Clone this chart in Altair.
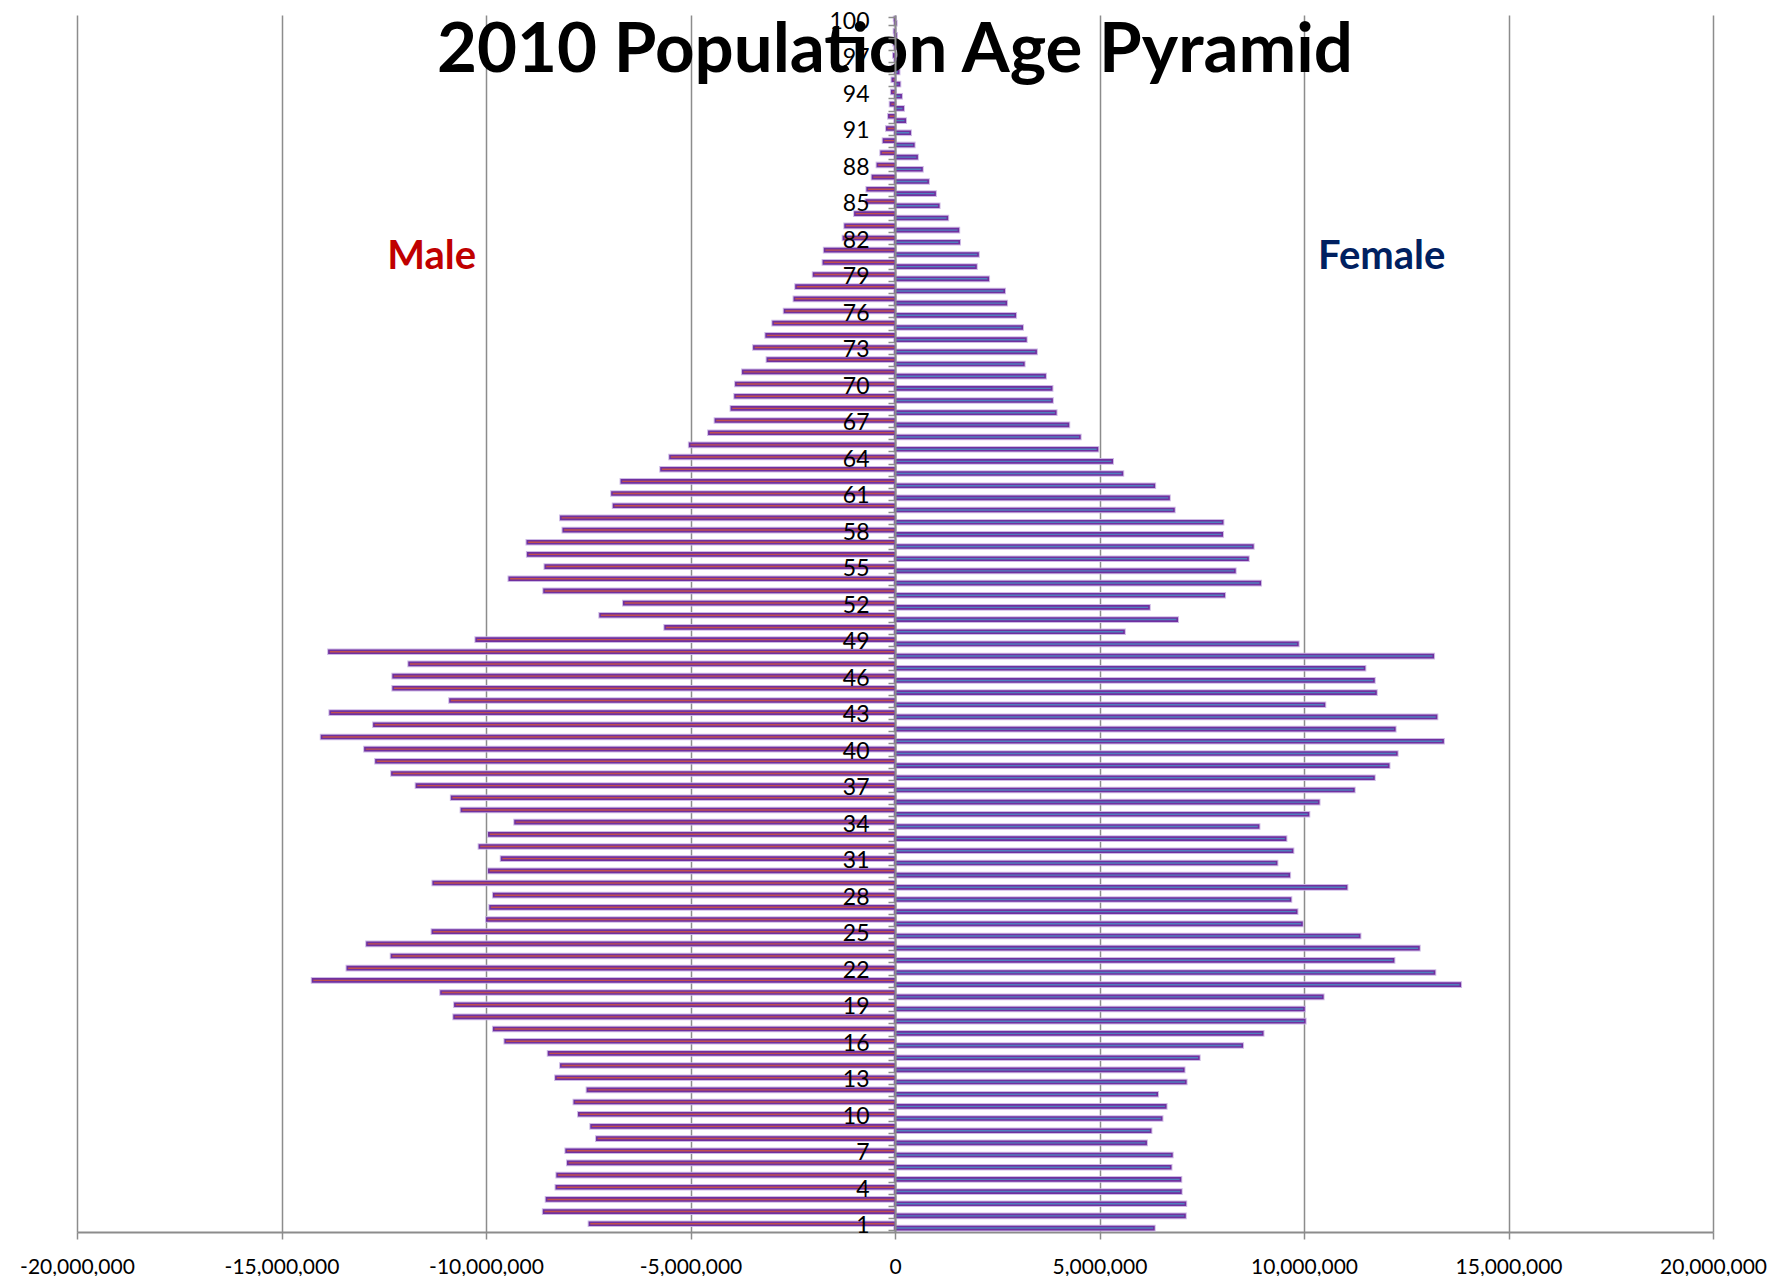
import altair as alt
import pandas as pd

# ---- data (millions of people), ages 1..100 ----
ages = list(range(1, 101))

male_m = [
    -7.47, -8.59, -8.52, -8.28, -8.26, -8.00, -8.04, -7.29, -7.43, -7.73,
    -7.84, -7.52, -8.29, -8.17, -8.47, -9.53, -9.81, -10.78, -10.76, -11.10,
    -14.24, -13.39, -12.31, -12.91, -11.31, -9.98, -9.90, -9.81, -11.29, -9.93,
    -9.62, -10.16, -9.93, -9.29, -10.60, -10.84, -11.70, -12.30, -12.69, -12.96,
    -14.02, -12.74, -13.81, -10.88, -12.27, -12.27, -11.88, -13.84, -10.24, -5.62,
    -7.21, -6.63, -8.58, -9.43, -8.55, -8.98, -8.99, -8.11, -8.17, -6.88,
    -6.92, -6.69, -5.72, -5.50, -5.02, -4.55, -4.39, -4.00, -3.91, -3.89,
    -3.72, -3.12, -3.45, -3.15, -2.98, -2.70, -2.46, -2.42, -1.99, -1.75,
    -1.72, -1.26, -1.22, -0.98, -0.70, -0.68, -0.55, -0.43, -0.34, -0.28,
    -0.20, -0.15, -0.11, -0.08, -0.065, -0.045, -0.03, -0.02, -0.012, -0.01,
]

female_m = [
    6.33, 7.09, 7.10, 6.99, 6.98, 6.74, 6.77, 6.14, 6.25, 6.52,
    6.62, 6.41, 7.11, 7.06, 7.43, 8.49, 8.99, 10.02, 10.00, 10.46,
    13.82, 13.19, 12.19, 12.81, 11.36, 9.95, 9.82, 9.67, 11.04, 9.64,
    9.33, 9.72, 9.55, 8.89, 10.11, 10.36, 11.22, 11.71, 12.07, 12.27,
    13.40, 12.22, 13.24, 10.50, 11.76, 11.71, 11.48, 13.16, 9.85, 5.60,
    6.90, 6.21, 8.05, 8.93, 8.31, 8.63, 8.75, 8.00, 8.01, 6.82,
    6.70, 6.34, 5.56, 5.31, 4.95, 4.52, 4.24, 3.93, 3.84, 3.83,
    3.67, 3.15, 3.45, 3.20, 3.11, 2.94, 2.72, 2.67, 2.28, 1.98,
    2.03, 1.57, 1.55, 1.28, 1.07, 0.98, 0.81, 0.66, 0.54, 0.46,
    0.37, 0.25, 0.20, 0.15, 0.11, 0.09, 0.06, 0.04, 0.03, 0.02,
]

series = ["Male", "Female"]
fill_colors = ["#c0504d", "#4f81bd"]
x_ticks = [-20000000, -15000000, -10000000, -5000000, 0,
           5000000, 10000000, 15000000, 20000000]

label_text = ["Male", "Female"]
label_x = [-11330000, 11900000]
label_age = [81, 81]
label_colors = ["#c00000", "#002060"]

rows = []
for a, m, f in zip(ages, male_m, female_m):
    rows.append({"age": a, "sex": "Male", "pop": m * 1e6})
    rows.append({"age": a, "sex": "Female", "pop": f * 1e6})
df = pd.DataFrame(rows)

lab_df = pd.DataFrame({"label": label_text, "x": label_x,
                       "age": label_age, "color": label_colors})

W, H = 1636, 1217
grid_col = "#8c8c8c"

y_axis = alt.Axis(
    orient="left",
    offset=-(W / 2),
    title=None,
    labelExpr="datum.value % 3 == 1 ? datum.label : ''",
    labelFont="Lato",
    labelFontSize=23,
    labelColor="black",
    labelPadding=19,
    labelOverlap=False,
    ticks=True,
    tickBand="extent",
    tickSize=7,
    tickColor=grid_col,
    tickWidth=1.5,
    domainColor=grid_col,
    domainWidth=2,
    grid=False,
    zindex=1,
)
y_scale = alt.Scale(paddingInner=0.29, paddingOuter=0.145)
yoff_scale = alt.Scale(paddingInner=0.3, paddingOuter=0.15)

x_enc = alt.X(
    "pop:Q",
    scale=alt.Scale(domain=[-20000000, 20000000], nice=False, zero=False),
    axis=alt.Axis(
        values=x_ticks,
        title=None,
        labelExpr="replace(format(datum.value, ','), '\u2212', '-')",
        labelFont="Lato",
        labelFontSize=21,
        labelColor="black",
        labelPadding=17,
        labelFlush=False,
        labelOverlap=False,
        ticks=True,
        tickSize=7,
        tickColor=grid_col,
        tickWidth=1.5,
        grid=True,
        gridColor=grid_col,
        gridWidth=1.5,
        domainColor=grid_col,
        domainWidth=2,
        zindex=0,
    ),
)

base = alt.Chart(df).encode(
    x=x_enc,
    y=alt.Y("age:O", sort="descending", scale=y_scale, axis=y_axis),
    yOffset=alt.YOffset("sex:N", sort=series, scale=yoff_scale),
    color=alt.Color(
        "sex:N",
        scale=alt.Scale(domain=series, range=fill_colors),
        legend=None,
    ),
)

# soft lavender glow around each bar (as in the spreadsheet rendering)
halo = base.mark_bar(stroke="#c9b3e3", strokeWidth=3.6, opacity=0.9)
bars = base.mark_bar(stroke="#7030a0", strokeWidth=1.6)

labels = alt.Chart(lab_df).mark_text(
    font="Lato", fontSize=40, fontWeight="bold", align="center",
    baseline="middle", dy=5
).encode(
    x=alt.X("x:Q"),
    y=alt.Y("age:O", sort="descending"),
    text="label:N",
    color=alt.Color("color:N", scale=None),
)

chart = (
    alt.layer(halo, bars, labels)
    .properties(
        width=W,
        height=H,
        autosize=alt.AutoSizeParams(type="none"),
        padding={"left": 69, "top": 7, "right": 55, "bottom": 44},
        title=alt.TitleParams(
            "2010 Population Age Pyramid",
            font="Lato",
            fontSize=69,
            fontWeight="bold",
            color="black",
            anchor="middle",
            frame="group",
            offset=-82,
        ),
    )
    .configure_view(stroke=None)
)

chart.save("out.html", embed_options={"renderer": "svg", "actions": False})
